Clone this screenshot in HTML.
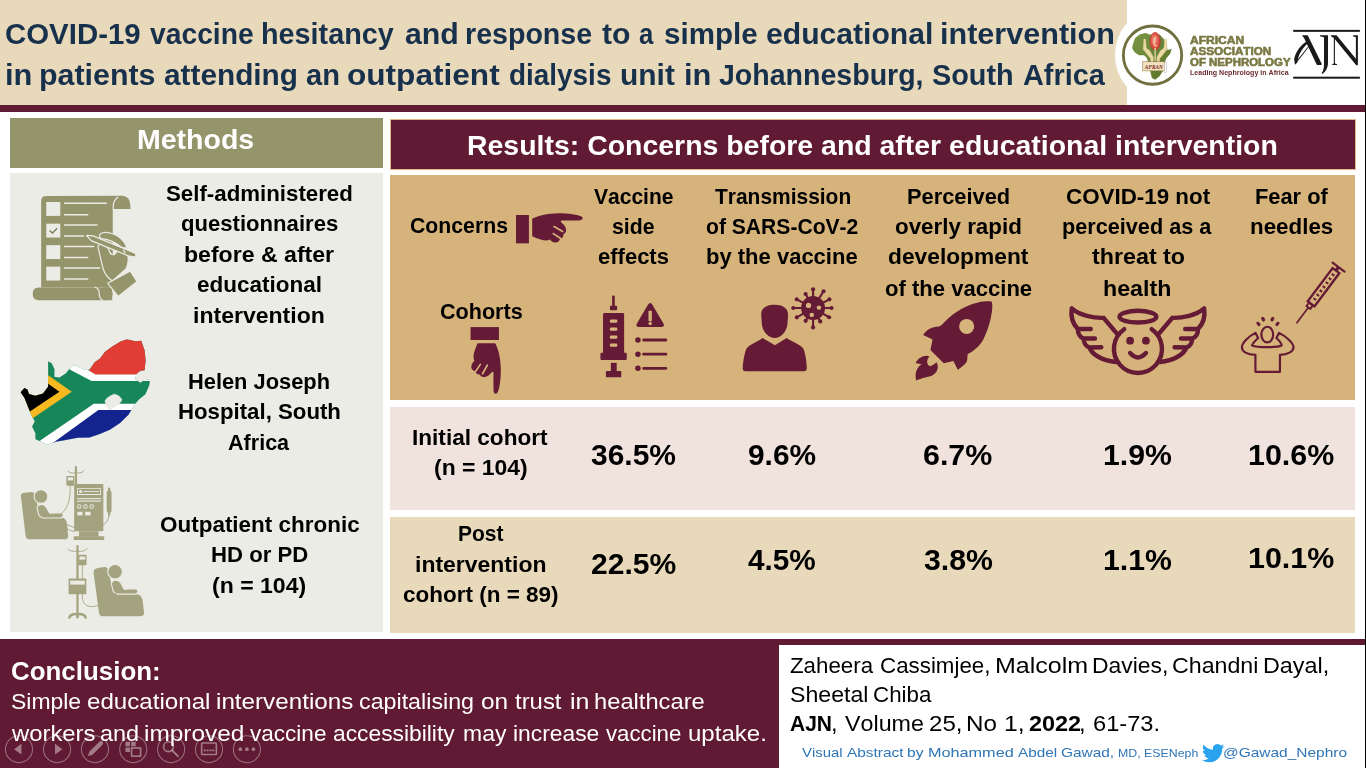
<!DOCTYPE html>
<html lang="en">
<head>
<meta charset="utf-8">
<title>COVID-19 vaccine hesitancy visual abstract</title>
<style>
html,body{margin:0;padding:0;}
body{width:1366px;height:768px;overflow:hidden;background:#fff;position:relative;font-family:"Liberation Sans",sans-serif;font-kerning:none;}
.b{position:absolute;}
.t{position:absolute;white-space:nowrap;line-height:1;transform-origin:0 0;font-family:"Liberation Sans",sans-serif;font-kerning:none;}
svg{position:absolute;overflow:visible;}
</style>
</head>
<body>
<!-- header -->
<div class="b" style="left:0;top:0;width:1127px;height:105px;background:#e9d9bb"></div>
<div class="b" style="left:1115px;top:11px;width:76px;height:88px;border-radius:50%;background:#fff"></div>
<div class="b" style="left:0;top:105px;width:1366px;height:7px;background:#611a33"></div>
<!-- methods -->
<div class="b" style="left:10px;top:118px;width:373px;height:50px;background:#95956c"></div>
<div class="b" style="left:10px;top:173px;width:373px;height:459px;background:#ecece6"></div>
<!-- results -->
<div class="b" style="left:390px;top:119px;width:966px;height:51px;background:#e0b98a"></div>
<div class="b" style="left:391px;top:120px;width:964.3px;height:49.3px;background:#611a33"></div>
<div class="b" style="left:390px;top:175px;width:965px;height:225px;background:#d6b37b"></div>
<div class="b" style="left:390px;top:407px;width:965px;height:102.5px;background:#f0e2dd"></div>
<div class="b" style="left:390px;top:517px;width:965px;height:115.5px;background:#e9d9bb"></div>
<!-- footer -->
<div class="b" style="left:0;top:639px;width:1366px;height:129px;background:#611a33"></div>
<div class="b" style="left:779px;top:645px;width:586px;height:123px;background:#fff"></div>
<svg style="left:20px;top:180px" width="130" height="130" viewBox="0 0 768 768">
<g fill="#95956c" stroke="none">
<path d="M125,635 L125,125 Q125,95 155,95 L603,93 Q650,95 652,150 L652,172 L548,172 L548,635 Z"/>
<path d="M112,635 L545,635 L545,710 L112,710 Q75,710 75,672 Q75,635 112,635 Z"/>
<circle cx="508" cy="672" r="39"/>
</g>
<path d="M551,176 L551,150 Q553,118 580,100" stroke="#ecece6" stroke-width="7" fill="none"/>
<path d="M440,632 Q470,640 468,672 Q468,700 490,712" stroke="#ecece6" stroke-width="7" fill="none"/>
<g fill="#ecece6">
<rect x="155" y="130" width="83" height="82"/><rect x="155" y="258" width="83" height="82"/><rect x="155" y="385" width="83" height="82"/><rect x="155" y="512" width="83" height="82"/>
</g>
<g stroke="#ecece6" stroke-width="9" stroke-linecap="round" fill="none">
<path d="M264,138H510M264,205H400M264,266H455M264,331H375M264,393H435M264,458H400M264,520H470M264,585H400"/>
</g>
<path d="M175,299 L192,313 L219,285" stroke="#7f7f58" stroke-width="8" fill="none"/>
<g fill="#95956c" stroke="#ecece6" stroke-width="7" stroke-linejoin="round">
<path d="M462,402 C455,382 482,372 500,386 L524,408 C530,442 556,452 566,430 L598,398 C640,420 652,470 626,526 L546,596 C520,580 500,556 490,520 Z"/>
<path d="M518,610 L652,538 L692,600 L580,688 Z"/>
<path d="M392,327 L432,330 L680,432 Q690,445 678,455 L640,448 L420,358 Z"/>
<path d="M476,318 C500,300 560,312 600,350 C622,372 632,388 626,404 L598,396 C570,372 520,348 482,346 C466,340 466,326 476,318 Z"/>
</g>
<path d="M610,412 L622,432" stroke="#ecece6" stroke-width="7" fill="none"/>
</svg>
<svg style="left:10px;top:330px" width="160" height="130" viewBox="0 0 945 768">
<defs><clipPath id="sa"><path d="M62,368 L85,343 L103,352 L112,378 L150,388 L195,375 L225,335 L225,185 L246,196 L263,232 L262,276 L292,280 L332,254 L366,208 L396,212 L440,236 L470,235 L500,190 L532,168 L560,130 L600,100 L650,70 L690,55 L740,66 L775,64 L795,120 L801,180 L795,238 L770,240 L746,260 L740,290 L770,311 L795,296 L828,294 L822,330 L800,380 L762,410 L735,442 L700,500 L650,550 L590,590 L530,615 L470,635 L400,636 L330,650 L270,660 L220,678 L185,660 L150,646 L150,610 L130,570 L146,540 L125,500 L105,450 L85,400 Z"/></clipPath></defs>
<g clip-path="url(#sa)">
<rect x="0" y="0" width="945" height="768" fill="#17875a"/>
<rect x="468" y="30" width="400" height="235" fill="#e23d35"/>
<path d="M350,200 L398,200 L505,263 L860,263 L860,301 L482,301 L350,232 Z" fill="#fff"/>
<path d="M860,436 L495,436 L170,658 L215,700 L860,700 Z" fill="#fff"/>
<path d="M860,473 L522,473 L222,690 L222,720 L860,720 Z" fill="#14248f"/>
<path d="M225,268 L365,365 L130,524 L30,524 L30,268 Z" fill="#f8b81f"/>
<path d="M225,318 L292,365 L115,483 L30,483 L30,318 Z" fill="#000"/>
</g>
<path d="M560,420 Q570,395 615,378 Q650,385 662,412 Q650,440 620,452 Q600,470 585,470 Q565,450 560,420 Z" fill="#ecece6" stroke="#d8d8d0" stroke-width="2"/>
</svg>
<svg style="left:10px;top:460px" width="150" height="170" viewBox="0 0 678 768">
<g fill="#a3a380" stroke="none">
<!-- HD chair -->
<path d="M50,168 Q44,150 68,148 L96,145 Q112,146 116,166 L136,252 L228,258 Q256,262 258,290 L263,344 Q263,358 246,358 L86,358 Q72,358 70,340 Z"/>
<circle cx="140" cy="165" r="31" stroke="#ecece6" stroke-width="5"/>
<path stroke="#ecece6" stroke-width="5" d="M122,215 Q128,198 150,202 Q166,208 172,228 L180,240 L228,238 Q242,240 240,252 Q238,262 226,262 L150,262 Q132,258 128,240 Z"/>
<!-- machine -->
<rect x="290" y="108" width="132" height="214" rx="6"/>
<rect x="312" y="322" width="88" height="24"/>
<rect x="288" y="344" width="138" height="17" rx="3"/>
<rect x="293" y="28" width="10" height="82"/>
<rect x="255" y="72" width="36" height="44" rx="4"/>
<rect x="437" y="138" width="22" height="100" rx="9"/>
<rect x="443" y="125" width="10" height="126"/>
<!-- PD pole -->
<rect x="300" y="385" width="10" height="315"/>
<rect x="308" y="428" width="38" height="48" rx="4"/>
<rect x="265" y="535" width="80" height="72" rx="4"/>
<path d="M262,716 Q262,690 300,690 L310,690 Q348,690 348,716 L336,716 Q336,702 310,702 L300,702 Q274,702 274,716 Z"/>
<rect x="299" y="696" width="12" height="20" rx="5"/>
<!-- PD chair -->
<path d="M378,512 Q374,492 398,488 L426,484 Q442,484 446,504 L466,600 L570,606 Q598,610 600,640 L606,690 Q606,706 588,706 L420,706 Q404,706 402,688 Z"/>
<circle cx="475" cy="505" r="33" stroke="#ecece6" stroke-width="5"/>
<path stroke="#ecece6" stroke-width="5" d="M458,558 Q464,540 486,544 Q502,550 508,570 L516,584 L566,582 Q580,584 578,596 Q576,606 564,606 L486,606 Q468,602 464,584 Z"/>
</g>
<g fill="none" stroke="#a3a380" stroke-width="4" stroke-linecap="round">
<path d="M262,50 Q270,62 298,58 M334,48 Q326,62 298,58"/>
<path d="M272,116 C275,200 250,230 225,248"/>
<path d="M448,250 C440,330 300,330 230,275"/>
<path d="M240,290 C260,320 280,322 292,322"/>
<path d="M262,402 Q270,416 305,412 M348,400 Q340,416 305,412"/>
<path d="M327,476 L327,620 C330,680 400,670 440,630 L480,600"/>
</g>
<g fill="#ecece6" stroke="none">
<rect x="303" y="126" width="108" height="32" rx="3"/>
<rect x="303" y="172" width="108" height="5"/><rect x="303" y="183" width="108" height="5"/>
<circle cx="313" cy="210" r="10"/><circle cx="341" cy="210" r="10"/><circle cx="369" cy="210" r="10"/>
<rect x="304" y="234" width="24" height="16"/><rect x="340" y="234" width="24" height="16"/>
<rect x="261" y="78" width="24" height="14"/>
<rect x="314" y="436" width="26" height="14"/>
<rect x="272" y="545" width="66" height="18"/>
</g>
<g fill="#a3a380"><rect x="307" y="130" width="100" height="24" rx="2"/><circle cx="319" cy="142" r="7" fill="#ecece6"/><rect x="332" y="140" width="70" height="4" fill="#ecece6"/>
<circle cx="313" cy="210" r="6"/><circle cx="341" cy="210" r="6"/><circle cx="369" cy="210" r="6"/></g>
</svg>
<svg style="left:0;top:0" width="1366" height="768" viewBox="0 0 1366 768">
<g transform="translate(500,200) scale(0.078125)">
<rect x="205" y="192" width="165" height="363" fill="#651b35"/>
<path fill="#651b35" d="M412,240 C480,200 600,170 750,168 C880,168 1000,185 1045,212 C1075,235 1050,262 1010,262 L795,262 C775,262 772,278 790,290 C830,320 852,360 845,400 C840,420 822,428 812,440 C815,470 792,495 770,490 C765,522 740,550 705,545 C672,540 652,522 640,505 C600,525 550,520 500,500 C460,485 430,475 412,465 Z"/>
<path d="M692,340 L802,402 M682,430 L772,490" stroke="#d6b37b" stroke-width="22" stroke-linecap="round" fill="none"/>
</g>
<g transform="translate(513.93,311.08) rotate(90) scale(0.078125)">
<rect x="205" y="192" width="165" height="363" fill="#651b35"/>
<path fill="#651b35" d="M412,240 C480,200 600,170 750,168 C880,168 1000,185 1045,212 C1075,235 1050,262 1010,262 L795,262 C775,262 772,278 790,290 C830,320 852,360 845,400 C840,420 822,428 812,440 C815,470 792,495 770,490 C765,522 740,550 705,545 C672,540 652,522 640,505 C600,525 550,520 500,500 C460,485 430,475 412,465 Z"/>
<path d="M692,340 L802,402 M682,430 L772,490" stroke="#d6b37b" stroke-width="22" stroke-linecap="round" fill="none"/>
</g>
</svg>
<svg style="left:590px;top:285px" width="90" height="100" viewBox="0 0 691 768">
<g fill="#651b35">
<rect x="170" y="80" width="20" height="88" rx="6"/>
<rect x="153" y="160" width="55" height="33" rx="7"/>
<rect x="100" y="215" width="162" height="312" rx="10"/>
<rect x="80" y="520" width="202" height="56" rx="8"/>
<rect x="160" y="598" width="45" height="70"/>
<rect x="122" y="660" width="118" height="49" rx="7"/>
<path d="M462,138 Q472,138 478,150 L566,300 Q574,320 552,322 L372,322 Q350,320 358,300 L446,150 Q452,138 462,138 Z"/>
<circle cx="368" cy="422" r="21"/><circle cx="368" cy="531" r="21"/><circle cx="368" cy="640" r="21"/>
</g>
<path d="M412,422H583M412,531H583M412,640H583" stroke="#651b35" stroke-width="22" stroke-linecap="round"/>
<g fill="#d6b37b">
<rect x="152" y="265" width="58" height="25" rx="10"/><rect x="152" y="327" width="58" height="25" rx="10"/><rect x="152" y="388" width="58" height="25" rx="10"/><rect x="152" y="450" width="58" height="25" rx="10"/>
<rect x="449" y="198" width="26" height="80" rx="6"/><circle cx="462" cy="296" r="13"/>
</g>
</svg>
<svg style="left:730px;top:280px" width="100" height="100" viewBox="0 0 768 768">
<g fill="#651b35">
<path d="M240,272 C235,215 280,190 342,190 C402,190 450,215 446,275 L440,350 C430,402 390,446 345,446 C296,446 256,402 246,350 Z"/>
<path d="M250,445 L345,502 L435,445 C480,477 540,490 565,530 C580,570 590,640 590,680 C590,695 580,700 570,700 L117,700 C106,700 98,695 98,680 C98,640 110,570 125,530 C150,490 210,477 250,445 Z"/>
<circle cx="638" cy="215" r="92"/>
</g>
<path d="M638.0,135.0L638.0,71.0" stroke="#651b35" stroke-width="16" stroke-linecap="round"/><circle cx="638.0" cy="71.0" r="16" fill="#651b35"/><path d="M680.4,147.2L718.5,86.1" stroke="#651b35" stroke-width="16" stroke-linecap="round"/><circle cx="718.5" cy="86.1" r="16" fill="#651b35"/><path d="M708.6,177.4L763.4,148.3" stroke="#651b35" stroke-width="16" stroke-linecap="round"/><circle cx="763.4" cy="148.3" r="16" fill="#651b35"/><path d="M718.0,215.0L780.0,215.0" stroke="#651b35" stroke-width="16" stroke-linecap="round"/><circle cx="780.0" cy="215.0" r="16" fill="#651b35"/><path d="M707.3,255.0L761.0,286.0" stroke="#651b35" stroke-width="16" stroke-linecap="round"/><circle cx="761.0" cy="286.0" r="16" fill="#651b35"/><path d="M675.6,285.6L692.9,318.3" stroke="#651b35" stroke-width="16" stroke-linecap="round"/><circle cx="692.9" cy="318.3" r="16" fill="#651b35"/><path d="M638.0,295.0L638.0,364.0" stroke="#651b35" stroke-width="16" stroke-linecap="round"/><circle cx="638.0" cy="364.0" r="16" fill="#651b35"/><path d="M598.0,284.3L581.0,313.7" stroke="#651b35" stroke-width="16" stroke-linecap="round"/><circle cx="581.0" cy="313.7" r="16" fill="#651b35"/><path d="M568.7,255.0L513.3,287.0" stroke="#651b35" stroke-width="16" stroke-linecap="round"/><circle cx="513.3" cy="287.0" r="16" fill="#651b35"/><path d="M558.0,215.0L486.0,215.0" stroke="#651b35" stroke-width="16" stroke-linecap="round"/><circle cx="486.0" cy="215.0" r="16" fill="#651b35"/><path d="M567.4,177.4L512.6,148.3" stroke="#651b35" stroke-width="16" stroke-linecap="round"/><circle cx="512.6" cy="148.3" r="16" fill="#651b35"/><path d="M600.4,144.4L580.7,107.3" stroke="#651b35" stroke-width="16" stroke-linecap="round"/><circle cx="580.7" cy="107.3" r="16" fill="#651b35"/>
<g fill="#d6b37b"><circle cx="603" cy="195" r="20"/><circle cx="683" cy="212" r="17"/><circle cx="628" cy="268" r="17"/></g>
</svg>
<svg style="left:900px;top:290px" width="110" height="100" viewBox="0 0 845 768">
<g fill="#651b35">
<path d="M700,88 C722,92 706,250 640,380 C612,432 562,472 520,492 L516,540 C510,570 470,592 445,614 L410,546 L336,562 L234,460 L250,380 L178,345 C200,310 240,280 300,280 L320,268 C380,200 480,120 600,95 C640,86 680,85 700,88 Z"/>
<path d="M125,696 C110,640 130,590 166,570 L120,560 C140,520 190,494 226,510 C200,540 205,570 230,585 C250,580 270,566 281,555 C300,590 290,640 240,660 C200,670 150,680 125,696 Z"/>
</g>
<circle cx="512" cy="280" r="58" fill="#d6b37b"/>
</svg>
<svg style="left:1060px;top:295px" width="160" height="90" viewBox="0 0 1365 768">
<g fill="none" stroke="#651b35" stroke-width="38" stroke-linecap="round" stroke-linejoin="round">
<ellipse cx="665" cy="185" rx="157" ry="50"/>
<path d="M782.6,292 A205,205 0 1 1 547.4,292"/>
<path d="M598,495 Q665,570 733,495"/>
<path d="M482,325 L372,195 C290,198 165,175 100,115 C88,200 118,255 152,290 L262,290 M152,290 C152,330 172,360 202,372 L298,372 M202,372 C202,410 222,440 252,448 L352,446 M252,448 C268,500 350,560 478,572"/>
<g transform="translate(1330,0) scale(-1,1)"><path d="M482,325 L372,195 C290,198 165,175 100,115 C88,200 118,255 152,290 L262,290 M152,290 C152,330 172,360 202,372 L298,372 M202,372 C202,410 222,440 252,448 L352,446 M252,448 C268,500 350,560 478,572"/></g>
</g>
<circle cx="598" cy="390" r="33" fill="#651b35"/><circle cx="733" cy="390" r="33" fill="#651b35"/>
</svg>
<svg style="left:1230px;top:255px" width="126" height="130" viewBox="0 0 744 768">
<g fill="none" stroke="#651b35" stroke-width="13" stroke-linejoin="round" stroke-linecap="round">
<ellipse cx="220" cy="470" rx="35" ry="46"/>
<path d="M150,690 L150,590 C100,590 70,570 70,545 C70,520 110,480 150,460 L166,490 C150,505 130,525 130,535 C160,548 280,548 305,535 C305,525 290,505 274,490 L290,460 C330,480 375,520 375,545 C375,570 340,590 295,590 L295,690 Z"/>
</g>
<g fill="#651b35" stroke="#651b35" stroke-width="5" stroke-linejoin="round">
<path d="M158,398 Q170,392 178,408 Q180,420 168,418 Q156,412 158,398Z"/>
<path d="M188,368 Q202,364 205,382 Q204,394 194,390 Q184,382 188,368Z"/>
<path d="M258,368 Q244,364 241,382 Q242,394 252,390 Q262,382 258,368Z"/>
<path d="M290,398 Q278,392 270,408 Q268,420 280,418 Q292,412 290,398Z"/>
</g>
<g transform="translate(395,400) rotate(-53.13)">
<path d="M0,0H118" stroke="#651b35" stroke-width="10" stroke-linecap="round"/>
<rect x="113" y="-14" width="24" height="28" fill="#d6b37b" stroke="#651b35" stroke-width="11"/>
<rect x="140" y="-25" width="245" height="50" fill="#d6b37b" stroke="#651b35" stroke-width="14"/>
<path d="M175,10V-8M205,10V-8M235,10V-8M265,10V-8M295,10V-8M325,10V-8M355,10V-8" stroke="#651b35" stroke-width="12"/>
<rect x="385" y="-10" width="22" height="20" fill="#651b35"/>
<path d="M410,-44V44" stroke="#651b35" stroke-width="13" stroke-linecap="round"/>
</g>
</svg>
<svg style="left:1105px;top:5px" width="100" height="100" viewBox="0 0 768 768">
<defs><linearGradient id="ag" x1="0" y1="0" x2="1" y2="1"><stop offset="0" stop-color="#7a9644"/><stop offset="1" stop-color="#587329"/></linearGradient>
<radialGradient id="kg" cx="0.45" cy="0.45" r="0.6"><stop offset="0" stop-color="#f0a59a"/><stop offset="0.6" stop-color="#dd5548"/><stop offset="1" stop-color="#c8382f"/></radialGradient></defs>
<circle cx="365" cy="385" r="224" fill="#fff" stroke="#70713f" stroke-width="22"/>
<path d="M215,300 L230,255 L265,226 L310,215 L345,226 L420,226 L450,260 L470,300 L480,345 L512,338 L500,375 L470,410 L455,450 L450,500 L420,545 L385,575 L360,560 L345,500 L335,450 L320,405 L300,386 L260,386 L225,360 L208,330 Z" fill="url(#ag)"/>
<path d="M298,262 L312,262 L318,330 L345,352 L372,400 L372,440 L398,440 L398,400 L425,352 L452,330 L458,262 L472,262 L478,340 L452,372 L420,412 L420,470 L350,470 L350,412 L318,372 L292,340 Z" fill="#ead9a4" stroke="#cdb97c" stroke-width="3"/>
<ellipse cx="385" cy="278" rx="40" ry="68" fill="url(#kg)" stroke="#b8332c" stroke-width="4"/>
<path d="M392,245 Q372,262 378,300 Q385,325 400,310" fill="none" stroke="#f7d9a0" stroke-width="9"/>
<path d="M385,330 L385,430" stroke="#ead9a4" stroke-width="10"/>
<rect x="290" y="436" width="170" height="70" fill="#efe2bd" stroke="#8a6a3a" stroke-width="4"/>
<rect x="456" y="442" width="18" height="76" fill="#fff" stroke="#999" stroke-width="3"/>
<text x="375" y="492" text-anchor="middle" font-family="Liberation Serif, serif" font-style="italic" font-weight="bold" font-size="50" fill="#7a1f2a" textLength="138" lengthAdjust="spacingAndGlyphs">AFRAN</text>
</svg>
<svg style="left:1285px;top:20px" width="81" height="70" viewBox="0 0 889 768">
<g fill="#1a1a1a" stroke="none">
<rect x="90" y="108" width="732" height="22"/>
<rect x="90" y="622" width="732" height="22"/>
<!-- A -->
<path d="M186,167 L249,167 L404,484 L398,493 L350,493 L212,202 Z"/>
<path d="M234,236 C178,275 118,340 100,430 L110,492 L140,462 C140,420 152,385 176,346 C196,312 220,282 248,258 Z"/>
<path d="M136,440 L254,290 L261,296 L144,447 Z"/>
<!-- J -->
<path d="M384,168 L472,168 L472,470 C472,530 442,572 410,592 L402,582 C420,560 428,530 428,480 L428,190 L384,178 Z"/>
<!-- N -->
<path d="M504,168 L566,168 L778,424 L778,190 L746,178 L746,168 L800,168 L800,496 L782,496 L548,212 L548,478 L572,486 L572,494 L518,494 L518,486 L536,478 L536,198 L504,178 Z"/>
</g>
</svg>
<svg style="left:1201.5px;top:743.5px" width="22.5" height="18.3" viewBox="0 0 24 19.5">
<path fill="#2aa3ef" d="M23.95 2.32c-.88.39-1.83.65-2.82.77a4.93 4.93 0 0 0 2.16-2.72c-.95.56-2 .96-3.13 1.19A4.92 4.92 0 0 0 11.78 6.04 13.94 13.94 0 0 1 1.64.9a4.9 4.9 0 0 0-.67 2.48c0 1.71.87 3.21 2.19 4.1a4.9 4.9 0 0 1-2.23-.62v.06a4.93 4.93 0 0 0 3.95 4.83 4.96 4.96 0 0 1-2.21.08 4.94 4.94 0 0 0 4.6 3.42A9.87 9.87 0 0 1 0 17.29a13.99 13.99 0 0 0 7.56 2.21c9.05 0 14-7.5 14-13.99 0-.21 0-.42-.02-.63a9.94 9.94 0 0 0 2.46-2.55z"/>
</svg>
<svg style="left:0;top:725px" width="280" height="43" viewBox="0 0 1366 210">
<g fill="none" stroke="#fff" stroke-opacity="0.38" stroke-width="5">
<circle cx="92" cy="118" r="66"/><circle cx="278" cy="118" r="66"/><circle cx="463" cy="118" r="66"/><circle cx="650" cy="118" r="66"/><circle cx="835" cy="118" r="66"/><circle cx="1020" cy="118" r="66"/><circle cx="1205" cy="118" r="66"/>
</g>
<g fill="#fff" fill-opacity="0.42" stroke="none">
<path d="M68,118 L104,92 L104,144 Z"/>
<path d="M304,118 L268,92 L268,144 Z"/>
<path d="M428,152 L436,130 L486,80 Q494,74 500,82 Q506,88 500,96 L450,146 Z"/>
<rect x="612" y="82" width="22" height="22"/><rect x="640" y="82" width="22" height="22"/><rect x="612" y="110" width="22" height="22"/>
<circle cx="1173" cy="118" r="9"/><circle cx="1205" cy="118" r="9"/><circle cx="1237" cy="118" r="9"/>
</g>
<g fill="none" stroke="#fff" stroke-opacity="0.42" stroke-width="8">
<rect x="642" y="112" width="44" height="40"/>
<circle cx="822" cy="106" r="24"/><path d="M840,124 L868,152" stroke-width="10" stroke-linecap="round"/>
<rect x="984" y="88" width="72" height="56" rx="4"/><path d="M994,124H1046" stroke-dasharray="10 4"/>
</g>
</svg>

<div class="b" style="left:0;top:0;width:1366px;height:768px;will-change:transform">
<span class="t" style="left:5.42px;top:20.00px;font-size:29.00px;transform:scaleX(1.0143);color:#17304c;font-weight:bold;">COVID-19</span>
<span class="t" style="left:149.86px;top:20.00px;font-size:29.00px;transform:scaleX(0.9741);color:#17304c;font-weight:bold;">vaccine</span>
<span class="t" style="left:260.99px;top:20.00px;font-size:29.00px;transform:scaleX(0.9923);color:#17304c;font-weight:bold;">hesitancy</span>
<span class="t" style="left:404.89px;top:20.00px;font-size:29.00px;transform:scaleX(1.0447);color:#17304c;font-weight:bold;">and</span>
<span class="t" style="left:465.44px;top:20.00px;font-size:29.00px;transform:scaleX(0.9860);color:#17304c;font-weight:bold;">response</span>
<span class="t" style="left:602.20px;top:20.00px;font-size:29.00px;transform:scaleX(1.0403);color:#17304c;font-weight:bold;">to</span>
<span class="t" style="left:639.23px;top:20.00px;font-size:29.00px;transform:scaleX(0.8895);color:#17304c;font-weight:bold;">a</span>
<span class="t" style="left:663.57px;top:20.00px;font-size:29.00px;transform:scaleX(1.0189);color:#17304c;font-weight:bold;">simple</span>
<span class="t" style="left:765.80px;top:20.00px;font-size:29.00px;transform:scaleX(1.0380);color:#17304c;font-weight:bold;">educational</span>
<span class="t" style="left:939.86px;top:20.00px;font-size:29.00px;transform:scaleX(1.0539);color:#17304c;font-weight:bold;">intervention</span>
<span class="t" style="left:5.14px;top:61.00px;font-size:29.00px;transform:scaleX(1.0617);color:#17304c;font-weight:bold;">in</span>
<span class="t" style="left:39.03px;top:61.00px;font-size:29.00px;transform:scaleX(1.0474);color:#17304c;font-weight:bold;">patients</span>
<span class="t" style="left:163.71px;top:61.00px;font-size:29.00px;transform:scaleX(1.0270);color:#17304c;font-weight:bold;">attending</span>
<span class="t" style="left:306.03px;top:61.00px;font-size:29.00px;transform:scaleX(1.0040);color:#17304c;font-weight:bold;">an</span>
<span class="t" style="left:347.24px;top:61.00px;font-size:29.00px;transform:scaleX(1.0893);color:#17304c;font-weight:bold;">outpatient</span>
<span class="t" style="left:509.18px;top:61.00px;font-size:29.00px;transform:scaleX(0.9624);color:#17304c;font-weight:bold;">dialysis</span>
<span class="t" style="left:619.80px;top:61.00px;font-size:29.00px;transform:scaleX(1.0325);color:#17304c;font-weight:bold;">unit</span>
<span class="t" style="left:683.84px;top:61.00px;font-size:29.00px;transform:scaleX(1.0617);color:#17304c;font-weight:bold;">in</span>
<span class="t" style="left:719.27px;top:61.00px;font-size:29.00px;transform:scaleX(0.9840);color:#17304c;font-weight:bold;">Johannesburg,</span>
<span class="t" style="left:932.44px;top:61.00px;font-size:29.00px;transform:scaleX(0.9942);color:#17304c;font-weight:bold;">South</span>
<span class="t" style="left:1022.78px;top:61.00px;font-size:29.00px;transform:scaleX(0.9966);color:#17304c;font-weight:bold;">Africa</span>
<span class="t" style="left:136.55px;top:126.00px;font-size:28.00px;transform:scaleX(1.0184);color:#fff;font-weight:bold;">Methods</span>
<span class="t" style="left:466.75px;top:132.00px;font-size:28.00px;transform:scaleX(1.0159);color:#fff;font-weight:bold;">Results: Concerns before and after educational intervention</span>
<span class="t" style="left:165.93px;top:183.00px;font-size:22.50px;transform:scaleX(0.9896);color:#000;font-weight:bold;">Self-administered</span>
<span class="t" style="left:180.72px;top:213.00px;font-size:22.50px;transform:scaleX(0.9825);color:#000;font-weight:bold;">questionnaires</span>
<span class="t" style="left:183.90px;top:244.00px;font-size:22.50px;transform:scaleX(1.0259);color:#000;font-weight:bold;">before &amp; after</span>
<span class="t" style="left:197.10px;top:274.00px;font-size:22.50px;transform:scaleX(0.9991);color:#000;font-weight:bold;">educational</span>
<span class="t" style="left:193.29px;top:305.00px;font-size:22.50px;transform:scaleX(1.0239);color:#000;font-weight:bold;">intervention</span>
<span class="t" style="left:188.48px;top:371.00px;font-size:22.50px;transform:scaleX(0.9705);color:#000;font-weight:bold;">Helen Joseph</span>
<span class="t" style="left:177.96px;top:401.00px;font-size:22.50px;transform:scaleX(0.9875);color:#000;font-weight:bold;">Hospital, South</span>
<span class="t" style="left:227.96px;top:432.00px;font-size:22.50px;transform:scaleX(0.9582);color:#000;font-weight:bold;">Africa</span>
<span class="t" style="left:159.50px;top:514.00px;font-size:22.50px;transform:scaleX(0.9982);color:#000;font-weight:bold;">Outpatient chronic</span>
<span class="t" style="left:210.56px;top:544.00px;font-size:22.50px;transform:scaleX(0.9855);color:#000;font-weight:bold;">HD or PD</span>
<span class="t" style="left:211.85px;top:575.00px;font-size:22.50px;transform:scaleX(1.0248);color:#000;font-weight:bold;">(n = 104)</span>
<span class="t" style="left:410.25px;top:215.00px;font-size:22.50px;transform:scaleX(0.9439);color:#000;font-weight:bold;">Concerns</span>
<span class="t" style="left:439.54px;top:301.00px;font-size:22.50px;transform:scaleX(0.9588);color:#000;font-weight:bold;">Cohorts</span>
<span class="t" style="left:594.09px;top:186.00px;font-size:22.50px;transform:scaleX(0.9341);color:#000;font-weight:bold;">Vaccine</span>
<span class="t" style="left:611.96px;top:216.00px;font-size:22.50px;transform:scaleX(0.9442);color:#000;font-weight:bold;">side</span>
<span class="t" style="left:597.72px;top:246.00px;font-size:22.50px;transform:scaleX(0.9779);color:#000;font-weight:bold;">effects</span>
<span class="t" style="left:714.69px;top:186.00px;font-size:22.50px;transform:scaleX(0.9311);color:#000;font-weight:bold;">Transmission</span>
<span class="t" style="left:706.16px;top:216.00px;font-size:22.50px;transform:scaleX(0.9375);color:#000;font-weight:bold;">of SARS-CoV-2</span>
<span class="t" style="left:706.17px;top:246.00px;font-size:22.50px;transform:scaleX(0.9779);color:#000;font-weight:bold;">by the vaccine</span>
<span class="t" style="left:906.78px;top:186.00px;font-size:22.50px;transform:scaleX(0.9702);color:#000;font-weight:bold;">Perceived</span>
<span class="t" style="left:895.01px;top:216.00px;font-size:22.50px;transform:scaleX(0.9943);color:#000;font-weight:bold;">overly rapid</span>
<span class="t" style="left:888.29px;top:246.00px;font-size:22.50px;transform:scaleX(1.0118);color:#000;font-weight:bold;">development</span>
<span class="t" style="left:884.82px;top:278.00px;font-size:22.50px;transform:scaleX(0.9805);color:#000;font-weight:bold;">of the vaccine</span>
<span class="t" style="left:1065.51px;top:186.00px;font-size:22.50px;transform:scaleX(0.9939);color:#000;font-weight:bold;">COVID-19 not</span>
<span class="t" style="left:1061.99px;top:216.00px;font-size:22.50px;transform:scaleX(0.9624);color:#000;font-weight:bold;">perceived as a</span>
<span class="t" style="left:1091.87px;top:246.00px;font-size:22.50px;transform:scaleX(1.0339);color:#000;font-weight:bold;">threat to</span>
<span class="t" style="left:1103.38px;top:278.00px;font-size:22.50px;transform:scaleX(1.0310);color:#000;font-weight:bold;">health</span>
<span class="t" style="left:1254.78px;top:186.00px;font-size:22.50px;transform:scaleX(0.9704);color:#000;font-weight:bold;">Fear of</span>
<span class="t" style="left:1250.05px;top:216.00px;font-size:22.50px;transform:scaleX(0.9934);color:#000;font-weight:bold;">needles</span>
<span class="t" style="left:412.13px;top:427.00px;font-size:22.50px;transform:scaleX(1.0043);color:#000;font-weight:bold;">Initial cohort</span>
<span class="t" style="left:433.65px;top:457.00px;font-size:22.50px;transform:scaleX(1.0192);color:#000;font-weight:bold;">(n = 104)</span>
<span class="t" style="left:457.83px;top:523.00px;font-size:22.50px;transform:scaleX(0.9337);color:#000;font-weight:bold;">Post</span>
<span class="t" style="left:414.89px;top:554.00px;font-size:22.50px;transform:scaleX(1.0208);color:#000;font-weight:bold;">intervention</span>
<span class="t" style="left:402.80px;top:584.00px;font-size:22.50px;transform:scaleX(0.9994);color:#000;font-weight:bold;">cohort (n = 89)</span>
<span class="t" style="left:590.85px;top:440.00px;font-size:30.00px;transform:scaleX(0.9994);color:#000;font-weight:bold;">36.5%</span>
<span class="t" style="left:747.65px;top:440.00px;font-size:30.00px;transform:scaleX(0.9955);color:#000;font-weight:bold;">9.6%</span>
<span class="t" style="left:923.34px;top:440.00px;font-size:30.00px;transform:scaleX(1.0135);color:#000;font-weight:bold;">6.7%</span>
<span class="t" style="left:1102.69px;top:440.00px;font-size:30.00px;transform:scaleX(1.0068);color:#000;font-weight:bold;">1.9%</span>
<span class="t" style="left:1247.88px;top:440.00px;font-size:30.00px;transform:scaleX(1.0133);color:#000;font-weight:bold;">10.6%</span>
<span class="t" style="left:590.55px;top:549.00px;font-size:30.00px;transform:scaleX(1.0030);color:#000;font-weight:bold;">22.5%</span>
<span class="t" style="left:747.95px;top:545.00px;font-size:30.00px;transform:scaleX(0.9911);color:#000;font-weight:bold;">4.5%</span>
<span class="t" style="left:923.64px;top:545.00px;font-size:30.00px;transform:scaleX(1.0090);color:#000;font-weight:bold;">3.8%</span>
<span class="t" style="left:1102.69px;top:545.00px;font-size:30.00px;transform:scaleX(1.0068);color:#000;font-weight:bold;">1.1%</span>
<span class="t" style="left:1247.88px;top:543.00px;font-size:30.00px;transform:scaleX(1.0133);color:#000;font-weight:bold;">10.1%</span>
<span class="t" style="left:10.96px;top:659.00px;font-size:25.33px;transform:scaleX(1.0229);color:#fff;font-weight:bold;">Conclusion:</span>
<span class="t" style="left:10.67px;top:691.00px;font-size:22.50px;transform:scaleX(1.0195);color:#fff;">Simple</span>
<span class="t" style="left:86.83px;top:691.00px;font-size:22.50px;transform:scaleX(1.0729);color:#fff;">educational</span>
<span class="t" style="left:215.73px;top:691.00px;font-size:22.50px;transform:scaleX(1.0766);color:#fff;">interventions</span>
<span class="t" style="left:359.47px;top:691.00px;font-size:22.50px;transform:scaleX(1.0334);color:#fff;">capitalising</span>
<span class="t" style="left:481.42px;top:691.00px;font-size:22.50px;transform:scaleX(1.0835);color:#fff;">on</span>
<span class="t" style="left:515.24px;top:691.00px;font-size:22.50px;transform:scaleX(1.0620);color:#fff;">trust</span>
<span class="t" style="left:569.68px;top:691.00px;font-size:22.50px;transform:scaleX(1.1094);color:#fff;">in</span>
<span class="t" style="left:594.44px;top:691.00px;font-size:22.50px;transform:scaleX(1.0540);color:#fff;">healthcare</span>
<span class="t" style="left:11.70px;top:723.00px;font-size:22.50px;transform:scaleX(1.0595);color:#fff;">workers</span>
<span class="t" style="left:100.06px;top:723.00px;font-size:22.50px;transform:scaleX(1.0427);color:#fff;">and</span>
<span class="t" style="left:144.21px;top:723.00px;font-size:22.50px;transform:scaleX(1.0854);color:#fff;">improved</span>
<span class="t" style="left:250.29px;top:723.00px;font-size:22.50px;transform:scaleX(1.0022);color:#fff;">vaccine</span>
<span class="t" style="left:332.89px;top:723.00px;font-size:22.50px;transform:scaleX(1.0134);color:#fff;">accessibility</span>
<span class="t" style="left:462.51px;top:723.00px;font-size:22.50px;transform:scaleX(1.0204);color:#fff;">may</span>
<span class="t" style="left:512.52px;top:723.00px;font-size:22.50px;transform:scaleX(1.0150);color:#fff;">increase</span>
<span class="t" style="left:605.59px;top:723.00px;font-size:22.50px;transform:scaleX(0.9875);color:#fff;">vaccine</span>
<span class="t" style="left:687.94px;top:723.00px;font-size:22.50px;transform:scaleX(1.0684);color:#fff;">uptake.</span>
<span class="t" style="left:790.33px;top:655.00px;font-size:22.50px;transform:scaleX(0.9913);color:#000;">Zaheera</span>
<span class="t" style="left:879.88px;top:655.00px;font-size:22.50px;transform:scaleX(0.9926);color:#000;">Cassimjee,</span>
<span class="t" style="left:995.40px;top:655.00px;font-size:22.50px;transform:scaleX(1.1127);color:#000;">Malcolm</span>
<span class="t" style="left:1091.67px;top:655.00px;font-size:22.50px;transform:scaleX(1.0183);color:#000;">Davies,</span>
<span class="t" style="left:1172.44px;top:655.00px;font-size:22.50px;transform:scaleX(1.0309);color:#000;">Chandni</span>
<span class="t" style="left:1262.93px;top:655.00px;font-size:22.50px;transform:scaleX(1.0376);color:#000;">Dayal,</span>
<span class="t" style="left:789.96px;top:684.00px;font-size:22.50px;transform:scaleX(1.0287);color:#000;">Sheetal</span>
<span class="t" style="left:873.28px;top:684.00px;font-size:22.50px;transform:scaleX(0.9933);color:#000;">Chiba</span>
<span class="t" style="left:790.48px;top:713.00px;font-size:22.50px;transform:scaleX(0.9332);color:#000;font-weight:bold;">AJN</span>
<span class="t" style="left:830.57px;top:713.00px;font-size:22.50px;transform:scaleX(1.0500);color:#000;">,</span>
<span class="t" style="left:845.08px;top:713.00px;font-size:22.50px;transform:scaleX(1.0341);color:#000;">Volume</span>
<span class="t" style="left:929.20px;top:713.00px;font-size:22.50px;transform:scaleX(1.0702);color:#000;">25,</span>
<span class="t" style="left:966.47px;top:713.00px;font-size:22.50px;transform:scaleX(1.0736);color:#000;">No</span>
<span class="t" style="left:1004.35px;top:713.00px;font-size:22.50px;transform:scaleX(1.0945);color:#000;">1,</span>
<span class="t" style="left:1029.18px;top:713.00px;font-size:22.50px;transform:scaleX(1.0422);color:#000;font-weight:bold;">2022</span>
<span class="t" style="left:1079.47px;top:713.00px;font-size:22.50px;transform:scaleX(1.0500);color:#000;">,</span>
<span class="t" style="left:1093.42px;top:713.00px;font-size:22.50px;transform:scaleX(1.0508);color:#000;">61-73.</span>
<span class="t" style="left:801.93px;top:746.00px;font-size:13.40px;transform:scaleX(1.1145);color:#2e75b6;">Visual</span>
<span class="t" style="left:847.00px;top:746.00px;font-size:13.40px;transform:scaleX(1.1500);color:#2e75b6;">Abstract</span>
<span class="t" style="left:907.49px;top:746.00px;font-size:13.40px;transform:scaleX(1.1609);color:#2e75b6;">by</span>
<span class="t" style="left:928.10px;top:746.00px;font-size:13.40px;transform:scaleX(1.2121);color:#2e75b6;">Mohammed</span>
<span class="t" style="left:1018.30px;top:746.00px;font-size:13.40px;transform:scaleX(1.1412);color:#2e75b6;">Abdel</span>
<span class="t" style="left:1061.43px;top:746.00px;font-size:13.40px;transform:scaleX(1.1516);color:#2e75b6;">Gawad,</span>
<span class="t" style="left:1117.71px;top:748.00px;font-size:11.00px;transform:scaleX(1.1224);color:#2e75b6;">MD, ESENeph</span>
<span class="t" style="left:1223.36px;top:746.00px;font-size:13.40px;transform:scaleX(1.1549);color:#2e75b6;">@Gawad_Nephro</span>
<span class="t" style="left:1189.90px;top:35.00px;font-size:10.75px;transform:scaleX(1.1184);color:#7b7a44;font-weight:bold;-webkit-text-stroke:0.6px #7b7a44;">AFRICAN</span>
<span class="t" style="left:1189.91px;top:46.00px;font-size:10.75px;transform:scaleX(1.0891);color:#7b7a44;font-weight:bold;-webkit-text-stroke:0.6px #7b7a44;">ASSOCIATION</span>
<span class="t" style="left:1189.74px;top:57.00px;font-size:10.75px;transform:scaleX(1.0657);color:#7b7a44;font-weight:bold;-webkit-text-stroke:0.6px #7b7a44;">OF NEPHROLOGY</span>
<span class="t" style="left:1190.14px;top:69.00px;font-size:7.60px;transform:scaleX(0.9312);color:#6b2a30;font-weight:bold;">Leading Nephrology in Africa</span>
</div>
<div class="b" style="left:1365px;top:0;width:1px;height:768px;background:#000"></div>
</body>
</html>
